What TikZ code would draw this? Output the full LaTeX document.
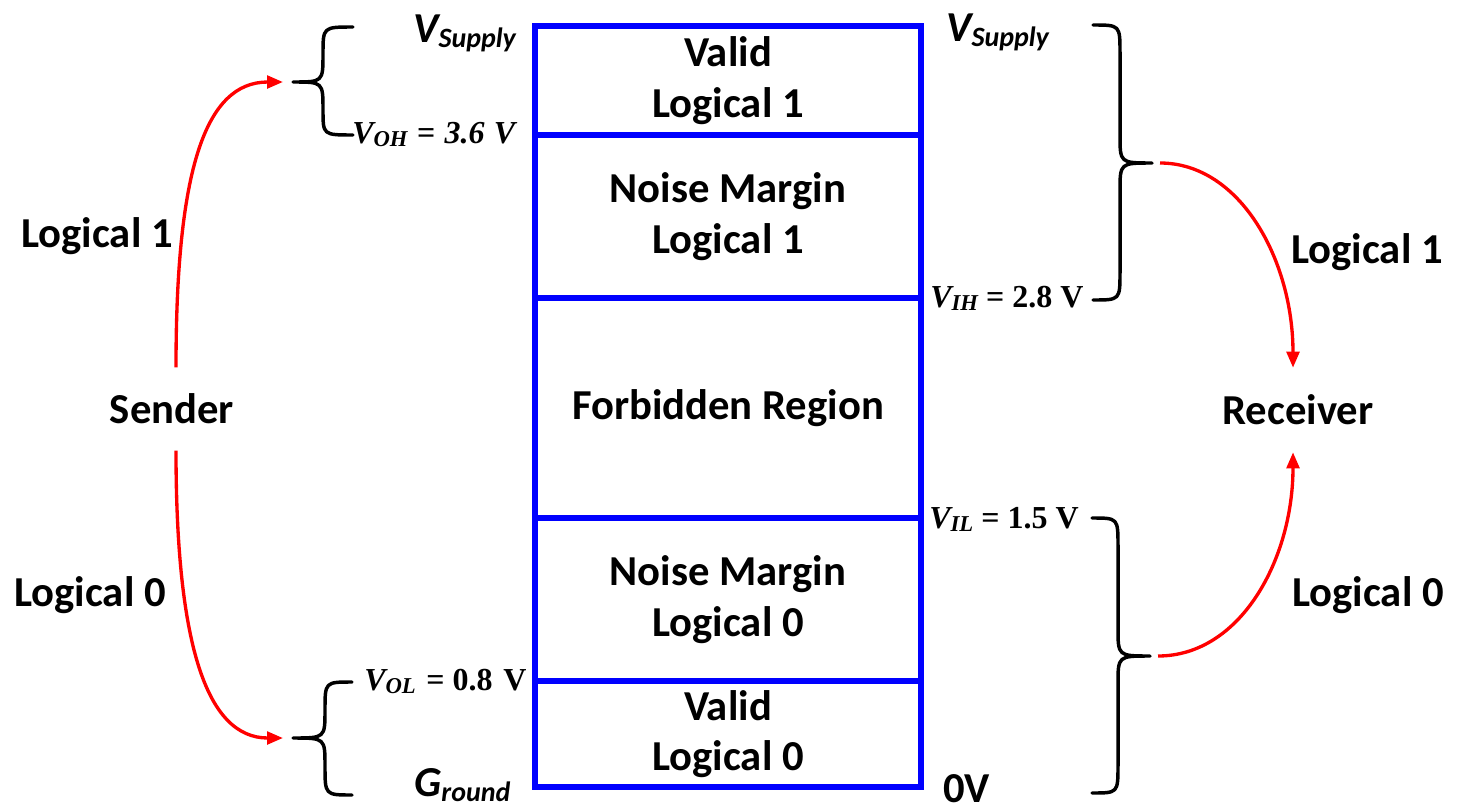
\documentclass[tikz,border=0pt]{standalone}
\usepackage{fontspec}
\setmainfont{Carlito}
\newfontfamily\tnr{Liberation Serif}
\usetikzlibrary{arrows.meta}
% large italic symbol with a lowered subscript (Carlito)
\newcommand\bigsub[2]{{\fontsize{32}{32}\selectfont\bfseries\itshape #1}\raisebox{-4pt}{\fontsize{21}{21}\selectfont\bfseries\itshape #2}}
% italic serif symbol with a lowered subscript
\newcommand\sersub[2]{{\itshape #1\raisebox{-2.5pt}{\fontsize{17}{17}\selectfont #2}}}
\begin{document}
\begin{tikzpicture}[x=0.75pt,y=-0.75pt,
  region/.style={draw=blue, line width=5pt, minimum width=289.5pt, inner sep=0pt,
    outer sep=0pt, align=center, font=\fontsize{32}{38}\selectfont\bfseries},
  lbl/.style={font=\fontsize{32}{38}\selectfont\bfseries, inner sep=0pt},
  brc/.style={line width=2.6pt, line cap=round, line join=round},
  sig/.style={draw=red, line width=2.5pt, -{Triangle[length=12pt,width=9.5pt]}},
  vl/.style={anchor=base west, inner sep=0pt, font=\tnr\fontsize{24}{24}\selectfont\bfseries},
  vs/.style={anchor=base west, inner sep=0pt}
]
\clip (0,0) rectangle (1462,810);
\fill[white] (0,0) rectangle (1462,810);

% voltage bands
\node[region, minimum height=81.75pt]  (valid1) at (728,80.5)  {Valid\\Logical 1};
\node[region, minimum height=122.25pt] (noise1) at (728,216.5) {Noise Margin\\Logical 1};
\node[region, minimum height=165pt]    (forb)   at (728,408)   {Forbidden Region};
\node[region, minimum height=122.25pt] (noise0) at (728,599.5) {Noise Margin\\Logical 0};
\node[region, minimum height=79.5pt]   (valid0) at (728,734)   {Valid\\Logical 0};

% level labels, sender side
\node[vs] (vsupl) at (413,42) {\bigsub{V}{Supply}};
\node[vl] (voh) at (352,143) {\sersub{V}{OH}\itshape\hspace{7pt}=\hspace{7pt}3.6\hspace{7pt}V};
\node[vl] (vol) at (364,690) {\sersub{V}{OL}\hspace{2pt} = 0.8\hspace{2pt} V};
\node[vs] (gnd) at (414,796) {\bigsub{G}{round}};

% level labels, receiver side
\node[vs] (vsupr) at (946,41) {\bigsub{V}{Supply}};
\node[vl] (vih) at (930,307) {\sersub{V}{IH} = 2.8 V};
\node[vl] (vil) at (929,528) {\sersub{V}{IL} = 1.5 V};
\node[vs, font=\fontsize{32}{32}\selectfont\bfseries] (zero) at (943,802) {0V};

% braces
\draw[brc] (353,27) .. controls (323,27) .. (323,54) .. controls (323,82) .. (293,82)
  .. controls (323,82) .. (323,110) .. controls (323,135) .. (353,135);
\draw[brc] (352,682) .. controls (325,682) .. (325,710) .. controls (325,738) .. (293,738)
  .. controls (325,738) .. (325,766) .. controls (325,795) .. (352,795);
\draw[brc] (1093,25) .. controls (1120,25) .. (1120,53) -- (1120,135) .. controls (1120,163) .. (1152,163)
  .. controls (1120,163) .. (1120,191) -- (1120,272) .. controls (1120,300) .. (1093,300);
\draw[brc] (1092,518) .. controls (1118,518) .. (1118,546) -- (1118,628) .. controls (1118,656) .. (1150,656)
  .. controls (1118,656) .. (1118,684) -- (1118,765) .. controls (1118,793) .. (1092,793);
\coordinate (tipsh) at (293,82);
\coordinate (tipsl) at (293,738);
\coordinate (tiprh) at (1152,163);
\coordinate (tiprl) at (1150,656);

% sender and receiver
\node[lbl, minimum height=62pt] (snd) at (172,409) {Sender};
\node[lbl, minimum height=63pt] (rcv) at (1298,410) {Receiver};
\node[lbl] (sl1) at (97,236) {Logical 1};
\node[lbl] (sl0) at (90,595) {Logical 0};
\node[lbl] (rl1) at (1367,252) {Logical 1};
\node[lbl] (rl0) at (1368,595) {Logical 0};

% signal arrows
\draw[sig, shorten >=7.5pt] ([xshift=3pt]snd.north) .. controls (176,170) and (205,82) .. (tipsh);
\draw[sig, shorten >=7.5pt] ([xshift=3pt]snd.south) .. controls (176,640) and (205,738) .. (tipsl);
\draw[sig, shorten <=6pt] (tiprh) .. controls (1240,163) and (1293,260) .. ([xshift=-3.75pt]rcv.north);
\draw[sig, shorten <=6pt] (tiprl) .. controls (1240,656) and (1293,560) .. ([xshift=-3.75pt]rcv.south);
\end{tikzpicture}
\end{document}
